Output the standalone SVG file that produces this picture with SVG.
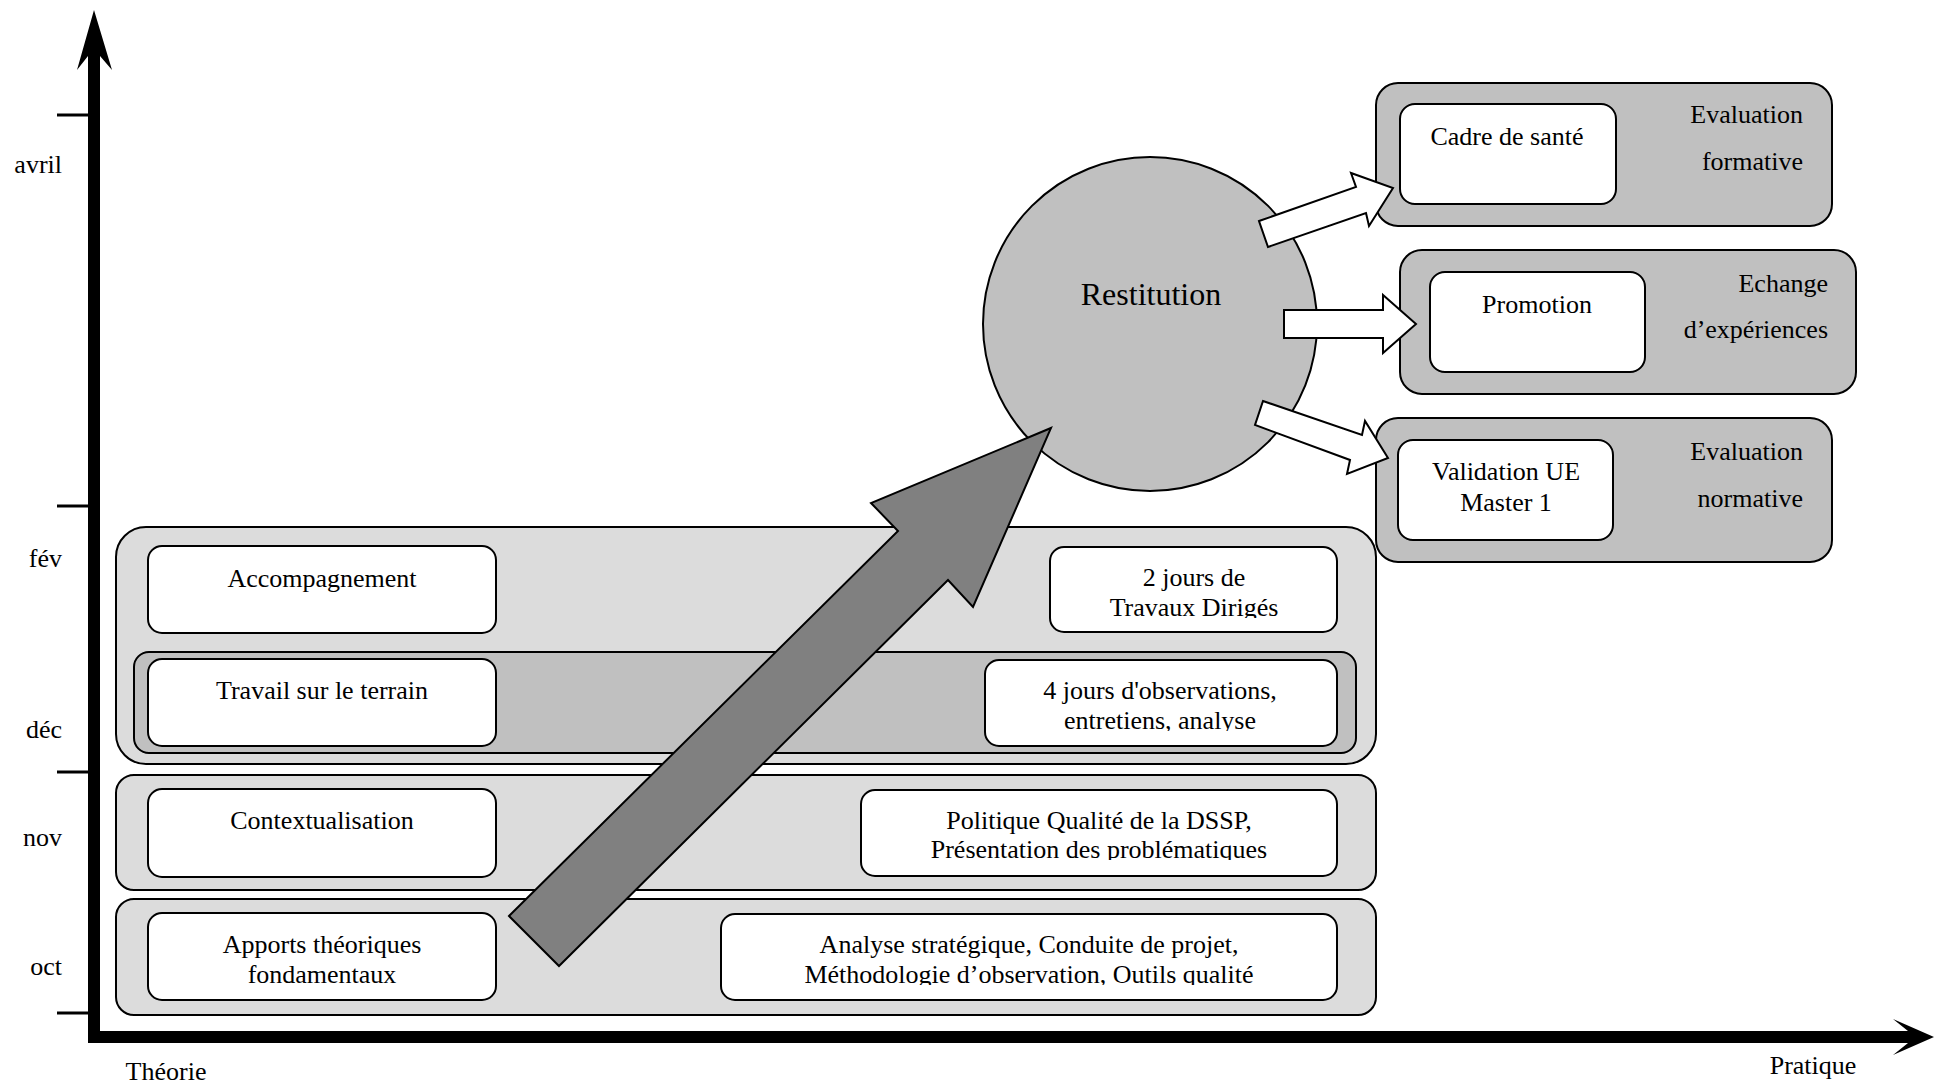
<svg xmlns="http://www.w3.org/2000/svg" width="1934" height="1083" viewBox="0 0 1934 1083">
<style>
text{font-family:"Liberation Serif","Times New Roman",serif;font-size:26px;fill:#000}
.c{text-anchor:middle}
.e{text-anchor:end}
.band{fill:#dcdcdc;stroke:#000;stroke-width:2}
.dark{fill:#c0c0c0;stroke:#000;stroke-width:2}
.box{fill:#fff;stroke:#000;stroke-width:2}
.tick{stroke:#000;stroke-width:3}
.hollow{fill:#fff;stroke:#000;stroke-width:2;stroke-linejoin:miter}
</style>
<defs>
<clipPath id="clip2j"><rect x="1050" y="547" width="288" height="71"/></clipPath>
<clipPath id="clip4j"><rect x="984" y="660" width="354" height="71"/></clipPath>
<clipPath id="clipPol"><rect x="860" y="790" width="478" height="70"/></clipPath>
<clipPath id="clipAna"><rect x="721" y="913" width="617" height="72"/></clipPath>
</defs>
<rect width="1934" height="1083" fill="#fff"/>

<g id="axes">
<rect x="88" y="52" width="12" height="991" fill="#000"/>
<polygon points="94,10 112,70 100,56 88,56 77,70" fill="#000"/>
<rect x="88" y="1031" width="1820" height="12" fill="#000"/>
<polygon points="1934,1037 1893,1019 1908,1031 1908,1043 1893,1055" fill="#000"/>
<line class="tick" x1="57" y1="115" x2="88" y2="115"/>
<line class="tick" x1="57" y1="506" x2="88" y2="506"/>
<line class="tick" x1="57" y1="772" x2="88" y2="772"/>
<line class="tick" x1="57" y1="1013" x2="88" y2="1013"/>
<text class="e" x="62" y="173">avril</text>
<text class="e" x="62" y="567">fév</text>
<text class="e" x="62" y="738">déc</text>
<text class="e" x="62" y="846">nov</text>
<text class="e" x="62" y="975">oct</text>
<text class="c" x="166" y="1080">Théorie</text>
<text class="c" x="1813" y="1074">Pratique</text>
</g>

<g id="band-fev-dec">
<rect class="band" x="116" y="527" width="1260" height="237" rx="30"/>
</g>
<g id="band-terrain">
<rect class="dark" x="134" y="652" width="1222" height="101" rx="15"/>
</g>
<g id="band-nov">
<rect class="band" x="116" y="775" width="1260" height="115" rx="18"/>
</g>
<g id="band-oct">
<rect class="band" x="116" y="899" width="1260" height="116" rx="18"/>
</g>

<g id="accompagnement">
<rect class="box" x="148" y="546" width="348" height="87" rx="14"/>
<text class="c" x="322" y="587">Accompagnement</text>
</g>
<g id="travaux-diriges">
<rect class="box" x="1050" y="547" width="287" height="85" rx="14"/>
<g clip-path="url(#clip2j)">
<text class="c" x="1194" y="586">2 jours de</text>
<text class="c" x="1194" y="616">Travaux Dirigés</text>
</g>
</g>
<g id="travail-terrain">
<rect class="box" x="148" y="659" width="348" height="87" rx="14"/>
<text class="c" x="322" y="699">Travail sur le terrain</text>
</g>
<g id="observations">
<rect class="box" x="985" y="660" width="352" height="86" rx="14"/>
<g clip-path="url(#clip4j)">
<text class="c" x="1160" y="699">4 jours d'observations,</text>
<text class="c" x="1160" y="729">entretiens, analyse</text>
</g>
</g>
<g id="contextualisation">
<rect class="box" x="148" y="789" width="348" height="88" rx="14"/>
<text class="c" x="322" y="829">Contextualisation</text>
</g>
<g id="politique">
<rect class="box" x="861" y="790" width="476" height="86" rx="14"/>
<g clip-path="url(#clipPol)">
<text class="c" x="1099" y="829">Politique Qualité de la DSSP,</text>
<text class="c" x="1099" y="858">Présentation des problématiques</text>
</g>
</g>
<g id="apports">
<rect class="box" x="148" y="913" width="348" height="87" rx="14"/>
<text class="c" x="322" y="953">Apports théoriques</text>
<text class="c" x="322" y="983">fondamentaux</text>
</g>
<g id="analyse">
<rect class="box" x="721" y="914" width="616" height="86" rx="14"/>
<g clip-path="url(#clipAna)">
<text class="c" x="1029" y="953">Analyse stratégique, Conduite de projet,</text>
<text class="c" x="1029" y="983">Méthodologie d’observation, Outils qualité</text>
</g>
</g>

<g id="restitution">
<circle class="dark" cx="1150" cy="324" r="167"/>
<text class="c" x="1151" y="305" style="font-size:32px">Restitution</text>
</g>

<g id="evaluation-formative">
<rect class="dark" x="1376" y="83" width="456" height="143" rx="22"/>
<text class="e" x="1803" y="123">Evaluation</text>
<text class="e" x="1803" y="170">formative</text>
<rect class="box" x="1400" y="104" width="216" height="100" rx="15"/>
<text class="c" x="1507" y="145">Cadre de santé</text>
</g>
<g id="echange">
<rect class="dark" x="1400" y="250" width="456" height="144" rx="22"/>
<text class="e" x="1828" y="292">Echange</text>
<text class="e" x="1828" y="338">d’expériences</text>
<rect class="box" x="1430" y="272" width="215" height="100" rx="15"/>
<text class="c" x="1537" y="313">Promotion</text>
</g>
<g id="evaluation-normative">
<rect class="dark" x="1376" y="418" width="456" height="144" rx="22"/>
<text class="e" x="1803" y="460">Evaluation</text>
<text class="e" x="1803" y="507">normative</text>
<rect class="box" x="1398" y="440" width="215" height="100" rx="15"/>
<text class="c" x="1506" y="480">Validation UE</text>
<text class="c" x="1506" y="511">Master 1</text>
</g>

<g id="connectors">
<polygon class="hollow" points="1259,221 1356,187 1351,173 1393,188 1369,226 1366,213 1268,247"/>
<polygon class="hollow" points="1284,310 1383,310 1383,295 1416,324 1383,353 1383,338 1284,338"/>
<polygon class="hollow" points="1263,401 1362,435 1365,421 1388,458 1347,474 1350,460 1255,425"/>
<polygon points="509,916 898,531 871,503 1051,428 973,607 948,580 559,966" fill="#808080" stroke="#000" stroke-width="2"/>
</g>
</svg>
